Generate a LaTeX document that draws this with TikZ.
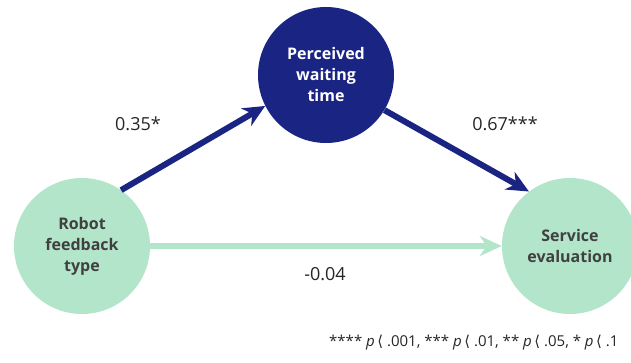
\documentclass[tikz,border=0pt]{standalone}
\usepackage{fontspec}
\setmainfont{Open Sans}
\newfontfamily\brk{DejaVu Sans}
\usetikzlibrary{arrows.meta}

\definecolor{navyfill}{HTML}{1A2482}
\definecolor{mintfill}{HTML}{B3E5CB}
\definecolor{labeltext}{HTML}{404040}

\newcommand{\plt}{\textit{p}\,{\brk ⟨}}

\tikzset{
  var/.style={circle, minimum size=136pt, inner sep=0pt, align=center,
    font=\fontsize{16}{21}\selectfont\bfseries},
  mintvar/.style={var, fill=mintfill, text=labeltext},
  navyvar/.style={var, fill=navyfill, text=white},
  patharrow/.style={line width=6pt, -{Stealth[length=22pt, width=20pt, inset=7pt]}},
  coef/.style={font=\fontsize{18}{20}\selectfont, text=black!85}
}

\begin{document}
\begin{tikzpicture}[x=1pt, y=-1pt]
    \clip (0,0) rectangle (631,363);
    \node[mintvar] (feedback) at (82,246) {Robot\\feedback\\type};
    \node[navyvar] (waiting) at (326,75) {Perceived\\waiting\\time};
    \node[mintvar] (service) at (570,246) {Service\\evaluation};

    \draw[patharrow, navyfill] (feedback.55) -- (waiting.207);
    \draw[patharrow, navyfill] (waiting.-31) -- (service.127);
    \draw[patharrow, mintfill] (feedback.east) -- (service.west);

    \node[coef] (aval) at (138,124) {0.35*};
    \node[coef] (bval) at (505,124) {0.67***};
    \node[coef] (cval) at (325,274) {-0.04};

    \node[anchor=east, font=\fontsize{15}{16}\selectfont, text=black!85] (sig) at (622,343)
      {**** \plt{} .001, *** \plt{} .01, ** \plt{} .05, * \plt{} .1};
  \end{tikzpicture}
\end{document}
